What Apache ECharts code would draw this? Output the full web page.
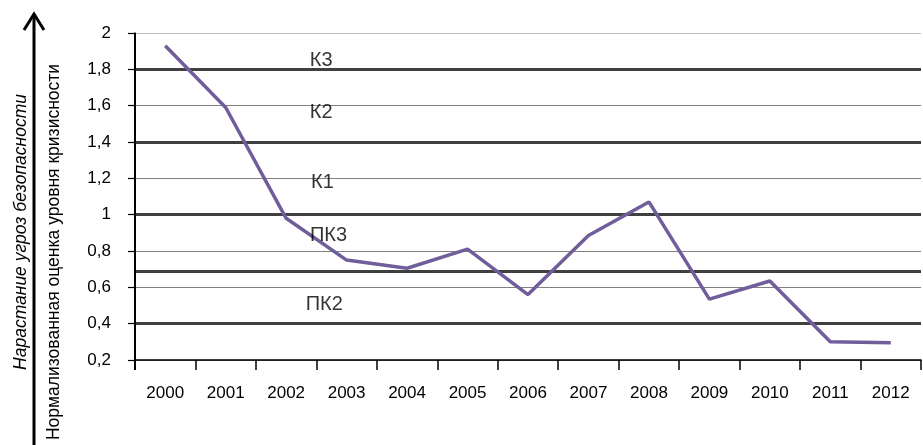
<!DOCTYPE html>
<html>
<head>
<meta charset="utf-8">
<script src="https://cdn.jsdelivr.net/npm/echarts@6/dist/echarts.min.js"></script>
<style>
  html, body { margin: 0; padding: 0; background: #fff; }
  #chart { width: 923px; height: 445px; }
</style>
</head>
<body>
<div id="chart"></div>
<script>
// данные
const years = ['2000', '2001', '2002', '2003', '2004', '2005', '2006', '2007', '2008', '2009', '2010', '2011', '2012']
const crisisLevel = [1.93, 1.59, 0.98, 0.75, 0.705, 0.81, 0.56, 0.885, 1.07, 0.535, 0.635, 0.3, 0.295]
const thresholds = [1.8, 1.4, 1.0, 0.69, 0.4]
// подписи зон (x — в долях категорий от левого края оси)
const zoneNames = ['К3', 'К2', 'К1', 'ПК3', 'ПК2']
const zoneX = [3.08, 3.08, 3.1, 3.2, 3.13]
const zoneY = [1.85, 1.565, 1.175, 0.883, 0.508]

const chart = echarts.init(document.getElementById('chart'))
const font = 'Liberation Sans, Arial, sans-serif'
const gridLeft = 135
const gridTop = 33
const gridBottom = 85
const H = 445

const option = {
  animation: false,
  grid: { left: gridLeft, right: 2, top: gridTop, bottom: gridBottom },
  xAxis: [
    {
      type: 'category',
      data: years,
      axisLine: { lineStyle: { color: '#000', width: 1.5 } },
      axisTick: { show: true, length: 10, lineStyle: { color: '#000', width: 1.5 } },
      axisLabel: { color: '#000', fontSize: 17, fontFamily: font, margin: 25 }
    },
    {
      type: 'value',
      min: 0,
      max: 13,
      show: false
    }
  ],
  yAxis: {
    type: 'value',
    min: 0.2,
    max: 2,
    interval: 0.2,
    axisLine: { show: true, lineStyle: { color: '#000', width: 1.5 } },
    axisTick: { show: true, length: 7, lineStyle: { color: '#000', width: 1.2 } },
    axisLabel: {
      color: '#000',
      fontSize: 17,
      fontFamily: font,
      margin: 24,
      formatter: v => String(Math.round(v * 10) / 10).replace('.', ',')
    },
    splitLine: {
      lineStyle: {
        color: ['#808080', '#808080', '#808080', '#808080', '#808080', '#808080', '#808080', '#808080', '#808080', '#bdbdbd'],
        width: 1
      }
    }
  },
  graphic: [
    {
      type: 'line',
      shape: { x1: 34, y1: 445, x2: 34, y2: 14 },
      style: { stroke: '#000', lineWidth: 3 }
    },
    {
      type: 'polyline',
      shape: { points: [[24, 30], [34, 14], [44, 30]] },
      style: { stroke: '#000', lineWidth: 3, fill: null }
    },
    {
      type: 'text',
      x: 21,
      y: 232,
      rotation: Math.PI / 2,
      style: {
        text: 'Нарастание угроз безопасности',
        font: 'italic 17.5px ' + font,
        fill: '#000',
        align: 'center',
        verticalAlign: 'middle'
      }
    },
    {
      type: 'text',
      x: 54,
      y: 252,
      rotation: Math.PI / 2,
      style: {
        text: 'Нормализованная оценка уровня кризисности',
        font: '17.5px ' + font,
        fill: '#000',
        align: 'center',
        verticalAlign: 'middle'
      }
    },
    // линия оси Y у левого края сетки
    {
      type: 'rect',
      z: 100,
      shape: { x: gridLeft - 1, y: gridTop, width: 2, height: H - gridBottom - gridTop + 10 },
      style: { fill: '#000' }
    }
  ],
  series: [
    {
      name: 'Оценка',
      type: 'line',
      data: crisisLevel,
      symbol: 'none',
      lineStyle: { color: '#705e9b', width: 3.5 },
      z: 5,
      markLine: {
        silent: true,
        symbol: 'none',
        label: { show: false },
        lineStyle: { color: '#404040', width: 3, type: 'solid' },
        data: thresholds.map(v => ({ yAxis: v }))
      }
    },
    {
      name: 'Зоны',
      type: 'scatter',
      xAxisIndex: 1,
      symbolSize: 0,
      data: zoneNames.map((n, i) => ({ value: [zoneX[i], zoneY[i]], name: n })),
      label: {
        show: true,
        position: 'inside',
        formatter: p => p.name,
        color: '#000',
        fontSize: 20,
        fontFamily: font
      },
      z: 6
    }
  ]
}

chart.setOption(option)
</script>
</body>
</html>
